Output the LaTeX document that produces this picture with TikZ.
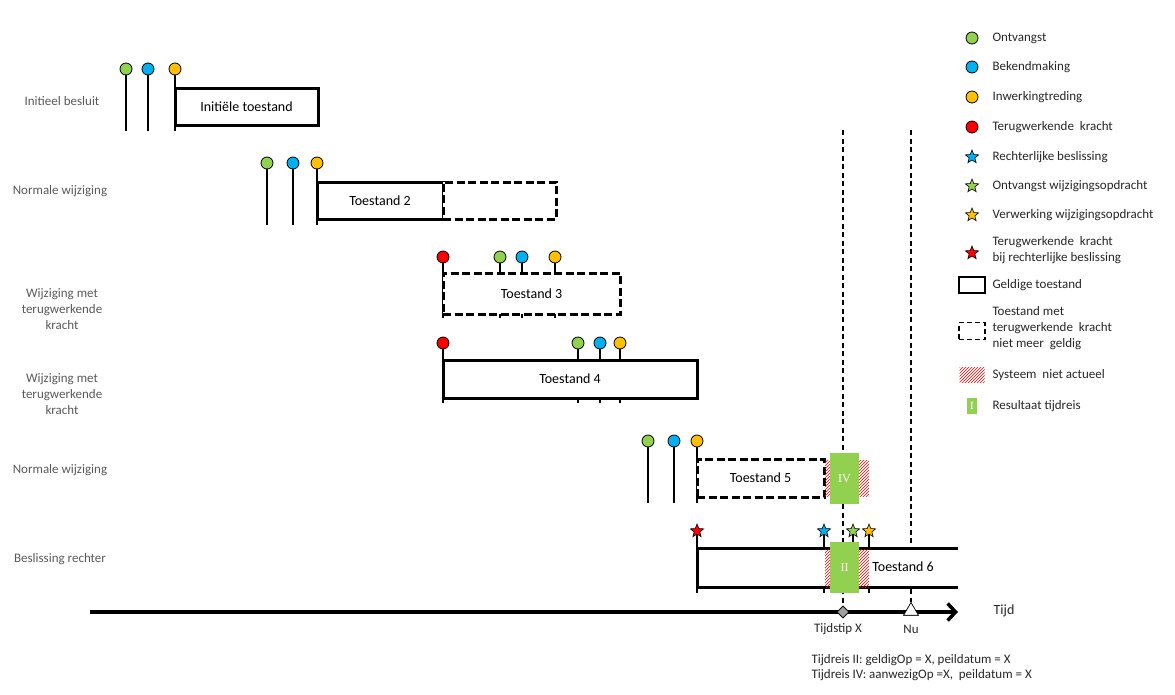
\documentclass[tikz,border=0pt]{standalone}
\usepackage{fontspec}
\setmainfont{Carlito}
\newfontfamily\romfont{Liberation Serif}
\usetikzlibrary{shapes.geometric, arrows.meta, positioning, patterns}
\definecolor{ontvgreen}{RGB}{146,208,80}
\definecolor{bekblue}{RGB}{0,176,240}
\definecolor{inwyellow}{RGB}{255,192,0}
\definecolor{labelgray}{RGB}{89,89,89}
\definecolor{legendtext}{RGB}{38,38,38}

\begin{document}
\begin{tikzpicture}[x=1pt,y=-1pt]
        \tikzstyle{pin} = [circle, draw, line width=0.8pt, minimum size=12pt, inner sep=0pt]
        \tikzstyle{starpin} = [star, star points=5, star point ratio=2.3, draw, line width=0.6pt, minimum size=14pt, inner sep=0pt]
        \tikzstyle{stem} = [line width=2pt]
        \tikzstyle{state} = [rectangle, draw, line width=3pt, fill=white, anchor=north west, inner sep=0pt, outer sep=0pt, font=\fontsize{14}{16}\selectfont]
        \tikzstyle{oldstate} = [state, dash pattern=on 8pt off 3.5pt]
        \tikzstyle{travel} = [rectangle, fill=ontvgreen, anchor=north west, inner sep=0pt, outer sep=0pt, text=white, font=\romfont\fontsize{12}{14}\selectfont]
        \tikzstyle{hatch} = [pattern=north east lines, pattern color=red]
        \tikzstyle{timeline} = [line width=1.5pt, dash pattern=on 5pt off 3.5pt]
        \tikzstyle{rowlabel} = [align=center, text=labelgray, font=\fontsize{13}{16}\selectfont]
        \tikzstyle{legend} = [anchor=west, align=left, text=legendtext, font=\fontsize{13}{16}\selectfont]
        \tikzstyle{axislabel} = [text=legendtext, font=\fontsize{13}{15}\selectfont]

        \useasboundingbox (0,0) rectangle (1175,694);

        % time markers
        \coordinate (xtop) at (843,130);
        \coordinate (nutop) at (911,130);
        \node (tx) [diamond, draw, fill=gray!75, line width=0.6pt, minimum size=12pt, inner sep=0pt] at (843,612) {};
        \node (nu) [regular polygon, regular polygon sides=3, draw, fill=white, line width=0.6pt, minimum size=17pt, inner sep=0pt] at (911,611) {};
        \draw[timeline] (xtop) -- (tx);
        \draw[timeline] (nutop) -- (nu);

        % row labels
        \node (lab1) [rowlabel] at (62,101) {Initieel besluit};
        \node (lab2) [rowlabel] at (60,191) {Normale wijziging};
        \node (lab3) [rowlabel] at (62,309) {Wijziging met\\terugwerkende\\kracht};
        \node (lab4) [rowlabel] at (62,394) {Wijziging met\\terugwerkende\\kracht};
        \node (lab5) [rowlabel] at (60,470) {Normale wijziging};
        \node (lab6) [rowlabel] at (60,559) {Beslissing rechter};

        % pins: name / x / y / bottom / colour
        \foreach \name/\x/\y/\b/\col in {
            a1/126/69/131/ontvgreen, a2/148/69/131/bekblue, a3/175/69/131/inwyellow,
            b1/267/163/225/ontvgreen, b2/293/163/225/bekblue, b3/317/163/225/inwyellow,
            c0/443/257/318/red, c1/500/257/318/ontvgreen, c2/522/257/318/bekblue, c3/555/257/318/inwyellow,
            d0/443/343/403/red, d1/578/343/403/ontvgreen, d2/600/343/403/bekblue, d3/620/343/403/inwyellow,
            e1/648/441/503/ontvgreen, e2/674/441/503/bekblue, e3/697/441/503/inwyellow} {
            \node (\name) [pin, fill=\col] at (\x,\y) {};
            \coordinate (\name b) at (\x,\b);
            \draw[stem] (\name) -- (\name b);
        }
        \foreach \name/\x/\col in {f0/697/red, f1/824/bekblue, f2/853/ontvgreen, f3/869/inwyellow} {
            \node (\name) [starpin, fill=\col] at (\x,531) {};
            \coordinate (\name b) at (\x,593);
            \draw[stem] (\name) -- (\name b);
        }

        % states
        \node (init) [state, minimum width=143pt, minimum height=37pt] at (175,88) {Initiële toestand};
        \node (t2) [state, minimum width=126pt, minimum height=37pt] at (317,182) {Toestand 2};
        \node (t2old) [oldstate, minimum width=113pt, minimum height=37pt] at (443,182) {};
        \node (t3) [oldstate, minimum width=177pt, minimum height=41pt] at (443,273) {Toestand 3};
        \node (t4) [state, minimum width=254pt, minimum height=38pt] at (443,360) {Toestand 4};
        \node (t5) [oldstate, minimum width=127pt, minimum height=38pt] at (697,459) {Toestand 5};
        \node (t6) [rectangle, fill=white, anchor=north west, minimum width=261pt, minimum height=39pt, inner sep=0pt, outer sep=0pt] at (697,548) {};
        \draw[line width=3pt] (t6.north east) -- (t6.north west) -- (t6.south west) -- (t6.south east);
        \node (t6lab) [font=\fontsize{14}{16}\selectfont] at (903,567) {Toestand 6};

        % system not up to date
        \path[hatch] (825,460) rectangle (830,496);
        \path[hatch] (859,460) rectangle (869,496);
        \path[hatch] (825,549) rectangle (830,587);
        \path[hatch] (859,549) rectangle (869,587);

        % time travel results
        \node (tr4) [travel, minimum width=29pt, minimum height=51pt] at (830,453) {IV};
        \node (tr2) [travel, minimum width=29pt, minimum height=51pt] at (830,542) {II};

        % time axis
        \coordinate (axstart) at (90,612);
        \coordinate (axend) at (958,612);
        \draw[line width=3.5pt, -{Straight Barb[length=8pt,width=17pt]}] (axstart) -- (axend);
        \node (tx) [diamond, draw, fill=gray!75, line width=0.6pt, minimum size=12pt, inner sep=0pt] at (843,612) {};
        \node (nu) [regular polygon, regular polygon sides=3, draw, fill=white, line width=0.6pt, minimum size=17pt, inner sep=0pt] at (911,611) {};
        \node (tijd) [axislabel, font=\fontsize{14}{16}\selectfont] at (1004,611) {Tijd};
        \node (txlab) [axislabel] at (838,629) {Tijdstip X};
        \node (nulab) [axislabel] at (911,629) {Nu};
        \node (query) [legend, font=\fontsize{13}{15}\selectfont] at (808,668) {Tijdreis II: geldigOp = X, peildatum = X\\Tijdreis IV: aanwezigOp =X,\ \ peildatum = X};

        % legend
        \node (lg1) [pin, fill=ontvgreen] at (972,38) {};
        \node (lg2) [pin, fill=bekblue] at (972,67) {};
        \node (lg3) [pin, fill=inwyellow] at (972,97) {};
        \node (lg4) [pin, fill=red] at (972,127) {};
        \node (lg5) [starpin, fill=bekblue] at (972,157) {};
        \node (lg6) [starpin, fill=ontvgreen] at (972,186) {};
        \node (lg7) [starpin, fill=inwyellow] at (972,215) {};
        \node (lg8) [starpin, fill=red] at (972,253) {};
        \node (lg9) [rectangle, draw, line width=1.8pt, minimum width=26pt, minimum height=16pt, inner sep=0pt] at (972,285) {};
        \node (lg10) [rectangle, draw, line width=1.8pt, dash pattern=on 5pt off 3pt, minimum width=26pt, minimum height=17pt, inner sep=0pt] at (972,331) {};
        \node (lg11) [rectangle, hatch, minimum width=25pt, minimum height=15pt, inner sep=0pt] at (972,375) {};
        \node (lg12) [rectangle, fill=ontvgreen, text=white, minimum width=10pt, minimum height=16pt, inner sep=0pt, font=\romfont\fontsize{11}{12}\selectfont] at (972,406) {I};

        \node [legend] at (989,38) {Ontvangst};
        \node [legend] at (989,67) {Bekendmaking};
        \node [legend] at (989,97) {Inwerkingtreding};
        \node [legend] at (989,127) {Terugwerkende\ \ kracht};
        \node [legend] at (989,157) {Rechterlijke beslissing};
        \node [legend] at (989,186) {Ontvangst wijzigingsopdracht};
        \node [legend] at (989,215) {Verwerking wijzigingsopdracht};
        \node [legend] at (989,250) {Terugwerkende\ \ kracht\\bij rechterlijke beslissing};
        \node [legend] at (989,285) {Geldige toestand};
        \node [legend] at (989,328) {Toestand met\\terugwerkende\ \ kracht\\niet meer\ \ geldig};
        \node [legend] at (989,375) {Systeem\ \ niet actueel};
        \node [legend] at (989,406) {Resultaat tijdreis};
    \end{tikzpicture}
\end{document}
